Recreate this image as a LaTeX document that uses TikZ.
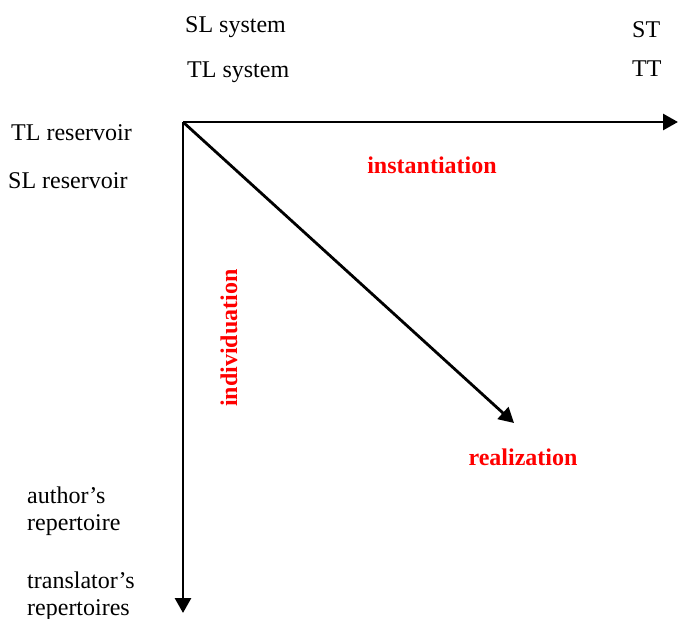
\documentclass[tikz,border=0pt]{standalone}
\usepackage{fontspec}
\setmainfont{Liberation Serif}
\usetikzlibrary{arrows.meta}
\begin{document}
\begin{tikzpicture}[x=1pt,y=-1pt,
  lbl/.style={anchor=base west,inner sep=0pt,font=\fontsize{24}{28}\selectfont},
  proc/.style={inner sep=0pt,text=red,font=\fontsize{24}{28}\selectfont\bfseries},
  axis/.style={line width=2.8pt,-{Triangle[length=15pt,width=16pt]}}]
\useasboundingbox (0,0) rectangle (678,619);

% labels at the top and on the left
\node[lbl] (slsys) at (185,32) {SL system};
\node[lbl] (tlsys) at (187,77) {TL system};
\node[lbl] (st) at (632,37) {ST};
\node[lbl] (tt) at (632,76) {TT};
\node[lbl] (tlres) at (11,140) {TL reservoir};
\node[lbl] (slres) at (8,188) {SL reservoir};
\node[lbl] (auth1) at (27,503) {author’s};
\node[lbl] (auth2) at (27,530) {repertoire};
\node[lbl] (tran1) at (27,588) {translator’s};
\node[lbl] (tran2) at (27,615) {repertoires};

% the three axes
\coordinate (o) at (183,122);
\coordinate (east) at (678,122);
\coordinate (south) at (183,613);
\coordinate (diag) at (514,423);
\draw[axis] (o) -- (east);
\draw[axis] (o) -- (south);
\draw[axis] (o) -- (diag);

% process names
\node[proc,anchor=base] (inst) at (432,173) {instantiation};
\node[proc,anchor=base] (real) at (523,465) {realization};
\node[proc,anchor=base,rotate=90] (indiv) at (237,338) {individuation};
\end{tikzpicture}
\end{document}
